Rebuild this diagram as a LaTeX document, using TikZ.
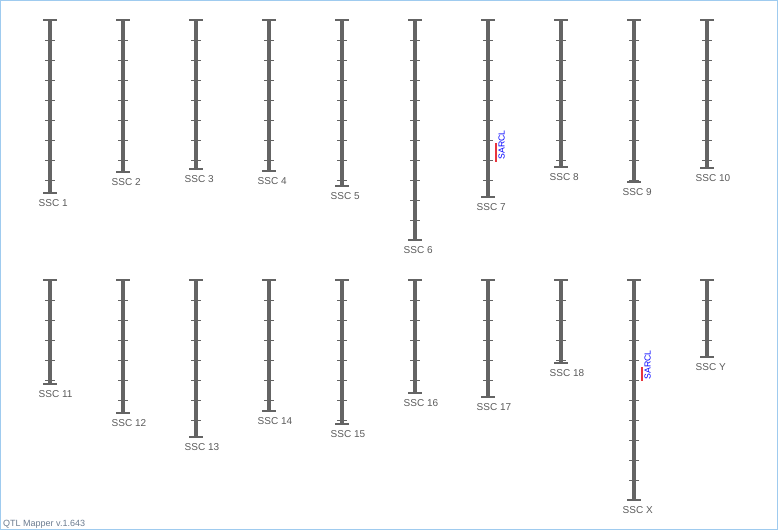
\documentclass[tikz,border=0pt]{standalone}
\usepackage{fontspec}
\setmainfont{Liberation Sans}
\definecolor{chrgray}{HTML}{646464}
\definecolor{lblgray}{HTML}{5A5A5A}
\definecolor{qtlred}{HTML}{E8343C}
\definecolor{frameblue}{HTML}{9FCBEF}
\definecolor{vergray}{HTML}{6B7B8F}

\begin{document}
\begin{tikzpicture}
[x=1pt,y=-1pt]
\tikzset{chrbar/.style={draw=chrgray,line width=4.4pt}}
\tikzset{chrcap/.style={draw=chrgray,line width=1.4pt}}
\tikzset{chrtick/.style={draw=chrgray,line width=1pt}}
\tikzset{chrlabel/.style={anchor=north west,inner sep=0pt,text=lblgray,font=\fontsize{10}{12}\selectfont}}
\tikzset{qtlbar/.style={draw=qtlred,line width=1.8pt}}
\tikzset{qtllabel/.style={rotate=90,anchor=north west,inner sep=0pt,text=blue,font=\fontsize{8.7}{10}\selectfont}}
\useasboundingbox (0,0) rectangle (778,530);
\draw [frameblue] (0.5,0.5) rectangle (777.5,529.5);

% chromosomes: name/x/top/bottom
\foreach \n/\x/\ytop/\ybot in {1/50/20/193,2/123/20/172,3/196/20/169,4/269/20/171,5/342/20/186,
	6/415/20/240,7/488/20/197,8/561/20/167,9/634/20/182,10/707/20/168,
	11/50/280/384,12/123/280/413,13/196/280/437,14/269/280/411,15/342/280/424,
	16/415/280/393,17/488/280/397,18/561/280/363,X/634/280/500,Y/707/280/357}
{
	\draw [chrbar] (\x,\ytop) -- (\x,\ybot);
	\draw [chrcap] (\x-7,\ytop) -- (\x+7,\ytop);
	\draw [chrcap] (\x-7,\ybot) -- (\x+7,\ybot);
	\pgfmathtruncatemacro\nt{(\ybot-\ytop-1)/20}
	\foreach \k in {1,...,\nt}
		\draw [chrtick] (\x-5,\ytop+20*\k) -- (\x+5,\ytop+20*\k);
	\node [chrlabel] (ssc\n) at (\x-11.5,\ybot+6) {SSC \n};
}

% QTL marks
\draw [qtlbar] (495.7,143) -- (495.7,162);
\node [qtllabel] (sarcl7) at (498.3,159.5) {SARCL};
\draw [qtlbar] (641.7,367) -- (641.7,381);
\node [qtllabel] (sarclX) at (644.3,379.5) {SARCL};

\node [anchor=base west,inner sep=0pt,text=vergray,font=\fontsize{9}{11}\selectfont] (ver) at (3,526.5) {QTL Mapper v.1.643};

\end{tikzpicture}
\end{document}
